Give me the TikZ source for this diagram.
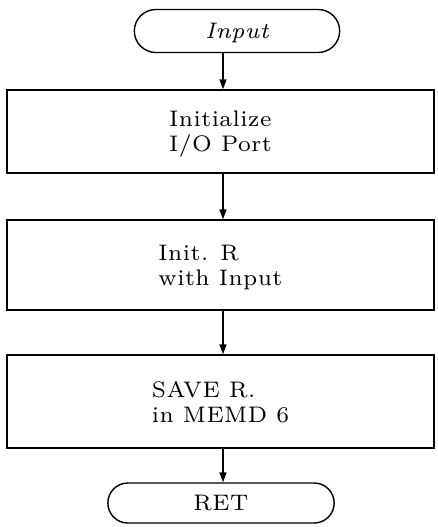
\documentclass[tikz,border=0pt]{standalone}
\usepackage{fontspec}
\setmainfont{lmroman7-regular.otf}[ItalicFont=lmroman7-italic.otf, LetterSpace=2]
\usetikzlibrary{shapes.misc, positioning, arrows.meta}

\tikzset{
  term/.style={draw, rounded rectangle, line width=1.4pt, text depth=0pt},
  stepbox/.style={draw, rectangle, line width=1.4pt, minimum width=427pt, align=left, text depth=0pt},
  flow/.style={-{Triangle[length=10pt, width=7pt]}, line width=1.4pt}
}

\begin{document}
\begin{tikzpicture}[x=1pt, y=-1pt, font=\fontsize{22.5}{25}\selectfont]
    \useasboundingbox (0,0) rectangle (437,527);

    % Entry terminal
    \node[term, minimum width=212pt, minimum height=43pt] (input) at (237,31) {\itshape Input};

    % Processing steps
    \node[stepbox, minimum height=83pt] (init) at (220.5,131.5) {Initialize\\I/O Port};
    \node[stepbox, minimum height=90pt] (initr) at (220.5,265) {Init. R\\with Input};
    \node[stepbox, minimum height=93pt] (save) at (220.5,401.5) {SAVE R.\\in MEMD 6};

    % Exit terminal
    \node[term, minimum width=233pt, minimum height=40pt] (ret) at (221,503) {RET};

    % Flow arrows along one vertical line
    \coordinate (spine) at (223,0);
    \draw[flow] (input.south -| spine) -- (init.north -| spine);
    \draw[flow] (init.south -| spine) -- (initr.north -| spine);
    \draw[flow] (initr.south -| spine) -- (save.north -| spine);
    \draw[flow] (save.south -| spine) -- (ret.north -| spine);

\end{tikzpicture}
\end{document}
